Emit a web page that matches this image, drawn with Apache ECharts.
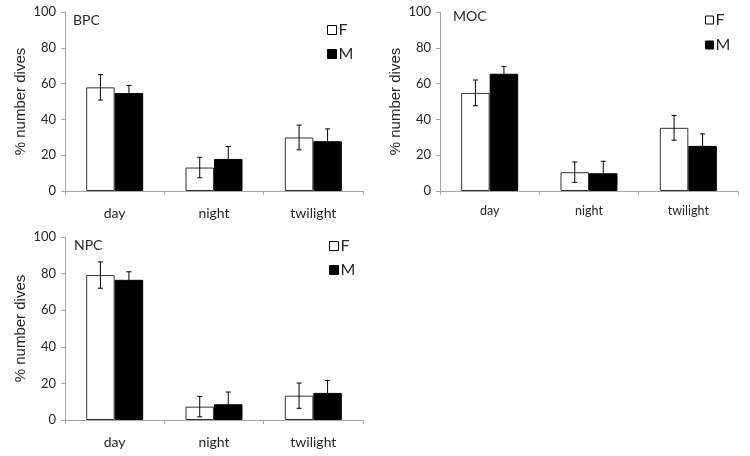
<!DOCTYPE html>
<html>
<head>
<meta charset="utf-8">
<script src="https://cdn.jsdelivr.net/npm/echarts@6/dist/echarts.min.js"></script>
<style>html,body{margin:0;padding:0;background:#fff;}#c{width:750px;height:456px;}</style>
</head>
<body>
<div id="c"></div>
<script>
const categories = ['day', 'night', 'twilight'];
const yTicks = [0, 20, 40, 60, 80, 100];
const panelNames = ['BPC', 'MOC', 'NPC'];

const bpcF = [57.9, 13.1, 29.9];
const bpcFErr = [7.1, 5.7, 6.9];
const bpcM = [54.7, 17.9, 27.8];
const bpcMErr = [4.3, 7.0, 6.9];

const mocF = [54.8, 10.5, 35.3];
const mocFErr = [7.2, 5.7, 6.9];
const mocM = [65.5, 9.9, 25.2];
const mocMErr = [4.1, 6.7, 6.7];

const npcF = [79.2, 7.3, 13.3];
const npcFErr = [7.2, 5.6, 6.9];
const npcM = [76.6, 8.6, 14.8];
const npcMErr = [4.4, 6.7, 6.8];

const GAP = 0.426;
const sans = 'Lato';
const textColor = '#262626';
const axisColor = '#a6a6a6';

const panels = [
  {F: bpcF, FE: bpcFErr, M: bpcM, ME: bpcMErr, grid: {left: 65, top: 12, width: 298, height: 179}, xFont: 14, xMargin: 15, legend: {left: 327, top: 22, gap: 8, size: 9}, title: {left: 73, top: 13, size: 14}},
  {F: mocF, FE: mocFErr, M: mocM, ME: mocMErr, grid: {left: 440, top: 12, width: 298, height: 179}, xFont: 12.5, xMargin: 13, legend: {left: 705, top: 12, gap: 9, size: 8}, title: {left: 453, top: 9, size: 14}},
  {F: npcF, FE: npcFErr, M: npcM, ME: npcMErr, grid: {left: 65, top: 237, width: 298, height: 183}, xFont: 14, xMargin: 15, legend: {left: 329, top: 238, gap: 8, size: 9}, title: {left: 74, top: 238, size: 14}}
];

function errRender(params, api) {
  const x = api.value(0), v = api.value(1), e = api.value(2), side = api.value(3);
  const top = api.coord([x, v + e]);
  const bot = api.coord([x, v - e]);
  const band = api.size([1, 0])[0];
  const bw = band * (1 - GAP) / 2;
  const cx = top[0] + side * bw / 2;
  const cap = 2.5;
  const st = {stroke: '#000', lineWidth: 1};
  return {
    type: 'group',
    children: [
      {type: 'line', shape: {x1: cx, y1: top[1], x2: cx, y2: bot[1]}, style: st},
      {type: 'line', shape: {x1: cx - cap, y1: top[1], x2: cx + cap, y2: top[1]}, style: st},
      {type: 'line', shape: {x1: cx - cap, y1: bot[1], x2: cx + cap, y2: bot[1]}, style: st}
    ]
  };
}

const option = {
  animation: false,
  backgroundColor: '#fff',
  title: [], grid: [], xAxis: [], yAxis: [], series: [], legend: []
};

panels.forEach((p, i) => {
  option.grid.push(Object.assign({containLabel: false}, p.grid));
  option.title.push({text: panelNames[i], left: p.title.left, top: p.title.top, padding: 0,
    textStyle: {fontFamily: sans, fontSize: p.title.size, fontWeight: 'normal', color: textColor}});
  option.xAxis.push({
    type: 'category', gridIndex: i, data: categories, boundaryGap: true,
    axisLine: {lineStyle: {color: axisColor, width: 1}},
    axisTick: {show: true, length: 4, lineStyle: {color: axisColor}},
    axisLabel: {fontFamily: sans, fontSize: p.xFont, color: textColor, margin: p.xMargin},
    splitLine: {show: false}
  });
  option.yAxis.push({
    type: 'value', gridIndex: i, min: yTicks[0], max: yTicks[yTicks.length - 1], interval: 20,
    name: '% number dives', nameLocation: 'middle', nameGap: 37,
    nameTextStyle: {fontFamily: 'Liberation Sans', fontSize: 15, color: textColor},
    axisLine: {show: true, lineStyle: {color: axisColor, width: 1}},
    axisTick: {show: true, length: 4, lineStyle: {color: axisColor}},
    axisLabel: {fontFamily: sans, fontSize: 13, color: textColor, margin: 9},
    splitLine: {show: false}
  });
  option.series.push({
    name: 'F', type: 'bar', xAxisIndex: i, yAxisIndex: i, data: p.F,
    barGap: '0%', barCategoryGap: (GAP * 100) + '%',
    itemStyle: {color: '#fff', borderColor: '#333', borderWidth: 1}
  });
  option.series.push({
    name: 'M', type: 'bar', xAxisIndex: i, yAxisIndex: i, data: p.M,
    barGap: '0%', barCategoryGap: (GAP * 100) + '%',
    itemStyle: {color: '#000', borderColor: '#000', borderWidth: 1}
  });
  option.series.push({
    type: 'custom', xAxisIndex: i, yAxisIndex: i, z: 5, renderItem: errRender,
    data: p.F.map((v, k) => [k, v, p.FE[k], -1]), silent: true
  });
  option.series.push({
    type: 'custom', xAxisIndex: i, yAxisIndex: i, z: 5, renderItem: errRender,
    data: p.M.map((v, k) => [k, v, p.ME[k], 1]), silent: true
  });
  option.legend.push({
    data: [
      {name: 'F', itemStyle: {color: '#fff', borderColor: '#000', borderWidth: 1}},
      {name: 'M', itemStyle: {color: '#000', borderColor: '#000', borderWidth: 1}}
    ],
    orient: 'vertical', left: p.legend.left, top: p.legend.top, padding: 0,
    itemGap: p.legend.gap, itemWidth: p.legend.size, itemHeight: p.legend.size, icon: 'rect',
    selectedMode: false,
    textStyle: {fontFamily: sans, fontSize: 16, color: textColor, padding: [0, 0, 0, -3]}
  });
});

const chart = echarts.init(document.getElementById('c'), null, {renderer: 'canvas'});
chart.setOption(option);
</script>
</body>
</html>
